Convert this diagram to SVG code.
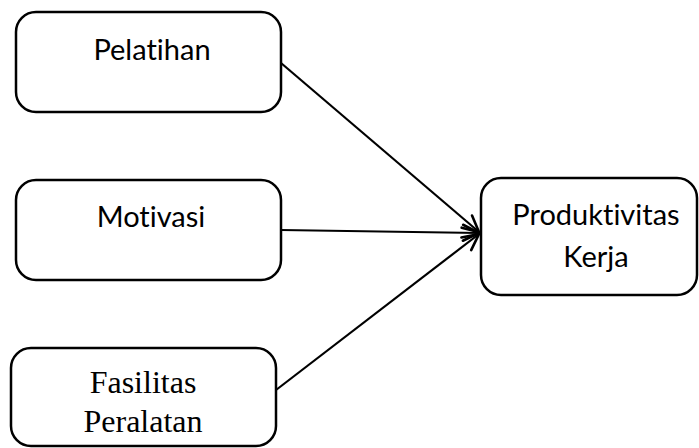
<svg xmlns="http://www.w3.org/2000/svg" width="699" height="448" viewBox="0 0 699 448">
<style>
.box{fill:#fff;stroke:#000;stroke-width:2.5}
.sans{font-family:Lato,"Open Sans","Liberation Sans",sans-serif;font-size:29px;fill:#000;text-anchor:middle;font-variant-ligatures:none;font-feature-settings:"liga" 0,"clig" 0}
.serif{font-family:"Liberation Serif","Times New Roman",serif;font-size:32px;fill:#000;text-anchor:middle}
.conn{stroke:#000;stroke-width:2.2;fill:none;marker-end:url(#arr)}
</style>
<defs>
<marker id="arr" markerUnits="userSpaceOnUse" markerWidth="24" markerHeight="24" refX="18" refY="12" orient="auto">
<path d="M2,4 L18,12 L2,20" fill="none" stroke="#000" stroke-width="2.6" stroke-linecap="round"/>
</marker>
</defs>
<rect width="699" height="448" fill="#fff"/>
<g id="pelatihan">
<rect class="box" x="16" y="12" width="265" height="100" rx="20"/>
<text class="sans" x="152" y="60">Pelatihan</text>
</g>
<g id="motivasi">
<rect class="box" x="16" y="180" width="265" height="100" rx="20"/>
<text class="sans" x="151" y="227">Motivasi</text>
</g>
<g id="fasilitas">
<rect class="box" x="11" y="348" width="265" height="98" rx="20"/>
<text class="serif" x="143" y="393">Fasilitas</text>
<text class="serif" x="143" y="432">Peralatan</text>
</g>
<g id="produktivitas">
<rect class="box" x="481" y="178" width="216" height="117" rx="20"/>
<text class="sans" x="596" y="225">Produktivitas</text>
<text class="sans" x="596" y="267">Kerja</text>
</g>
<g id="connectors">
<line class="conn" x1="281" y1="63" x2="479" y2="232"/>
<line class="conn" x1="281" y1="230" x2="479" y2="233"/>
<line class="conn" x1="276" y1="390" x2="479" y2="234"/>
</g>
</svg>
